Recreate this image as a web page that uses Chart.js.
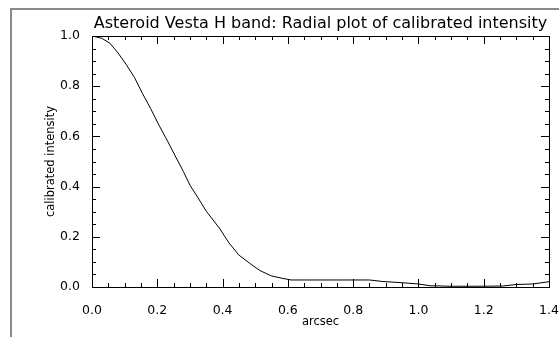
<!DOCTYPE html>
<html>
<head>
<meta charset="utf-8">
<script src="https://cdn.jsdelivr.net/npm/chart.js@4"></script>
<style>
  html, body { margin: 0; padding: 0; background: #fff; }
  #wrap { width: 559px; height: 337px; }
</style>
</head>
<body>
<div id="wrap"><canvas id="chart"></canvas></div>
<script>
// radial profile
const arcsec = [0, 0.03, 0.055, 0.08, 0.105, 0.13, 0.155, 0.18, 0.205, 0.23, 0.255, 0.28, 0.30, 0.325, 0.35, 0.39, 0.42, 0.45, 0.49, 0.515, 0.55, 0.585, 0.61, 0.65, 0.75, 0.85, 0.89, 0.95, 1.0, 1.035, 1.1, 1.2, 1.26, 1.3, 1.35, 1.4]
const intensity = [1.0, 0.991, 0.971, 0.932, 0.886, 0.835, 0.770, 0.710, 0.645, 0.585, 0.522, 0.460, 0.406, 0.355, 0.302, 0.235, 0.175, 0.127, 0.088, 0.065, 0.044, 0.034, 0.028, 0.028, 0.028, 0.028, 0.022, 0.017, 0.012, 0.005, 0.003, 0.003, 0.004, 0.010, 0.012, 0.021]

const xRange = [0, 1.4]
const yRange = [0, 1.0]
const majorStep = 0.2
const minorStep = 0.05

const titleText = 'Asteroid Vesta H band: Radial plot of calibrated intensity'
const xTitle = 'arcsec'
const yTitle = 'calibrated intensity'

const fontFamily = '"DejaVu Sans", sans-serif'

// gray page frame + closed box with inward ticks, like the IDL plot
const framePlugin = {
    id: 'frame',
    beforeDraw(chart) {
        let ctx = chart.ctx
        ctx.save()
        ctx.strokeStyle = '#8a8a8a'
        ctx.lineWidth = 2
        ctx.beginPath()
        ctx.moveTo(11, chart.height)
        ctx.lineTo(11, 9)
        ctx.lineTo(chart.width, 9)
        ctx.stroke()
        ctx.restore()
    },
    afterDraw(chart) {
        let ctx = chart.ctx
        let a = chart.chartArea
        let xs = chart.scales.x
        let ys = chart.scales.y
        ctx.save()
        ctx.strokeStyle = '#000'
        ctx.lineWidth = 1
        ctx.strokeRect(Math.round(a.left) + 0.5, Math.round(a.top) + 0.5,
            Math.round(a.right - a.left), Math.round(a.bottom - a.top))
        ctx.beginPath()
        let n = Math.round((xRange[1] - xRange[0]) / minorStep)
        for (let i = 0; i <= n; i++) {
            let v = xRange[0] + i * minorStep
            let len = (i % 4 === 0) ? 8 : 4
            let px = Math.round(xs.getPixelForValue(v)) + 0.5
            ctx.moveTo(px, a.bottom); ctx.lineTo(px, a.bottom - len)
            ctx.moveTo(px, a.top); ctx.lineTo(px, a.top + len)
        }
        n = Math.round((yRange[1] - yRange[0]) / minorStep)
        for (let i = 0; i <= n; i++) {
            let v = yRange[0] + i * minorStep
            let len = (i % 4 === 0) ? 8 : 4
            let py = Math.round(ys.getPixelForValue(v)) + 0.5
            ctx.moveTo(a.left, py); ctx.lineTo(a.left + len, py)
            ctx.moveTo(a.right, py); ctx.lineTo(a.right - len, py)
        }
        ctx.stroke()
        ctx.restore()
    }
}

new Chart(document.getElementById('chart'), {
    type: 'line',
    data: {
        datasets: [{
            data: arcsec.map((x, i) => ({x: x, y: intensity[i]})),
            borderColor: '#000',
            borderWidth: 1,
            pointRadius: 0,
            tension: 0,
            fill: false
        }]
    },
    options: {
        responsive: true,
        maintainAspectRatio: false,
        animation: false,
        layout: {padding: {left: 0, top: 0, right: 10, bottom: 0}},
        plugins: {
            legend: {display: false},
            tooltip: {enabled: false},
            title: {
                display: true,
                text: titleText,
                fullSize: false,
                color: '#000',
                font: {family: fontFamily, size: 16, weight: 'normal'},
                padding: {top: 14.4, bottom: 2.4}
            }
        },
        scales: {
            x: {
                type: 'linear',
                min: xRange[0],
                max: xRange[1],
                grid: {display: false},
                border: {display: false},
                ticks: {
                    stepSize: majorStep,
                    color: '#000',
                    padding: 8,
                    maxRotation: 0,
                    font: {family: fontFamily, size: 12.5},
                    callback: v => v.toFixed(1)
                },
                title: {
                    display: true,
                    text: xTitle,
                    color: '#000',
                    font: {family: fontFamily, size: 11.5},
                    padding: {top: 0, bottom: 8}
                },
                afterFit(s) {
                    s.height = 50
                    s.paddingLeft = 0
                    s.paddingRight = 0
                }
            },
            y: {
                min: yRange[0],
                max: yRange[1],
                grid: {display: false},
                border: {display: false},
                ticks: {
                    stepSize: majorStep,
                    color: '#000',
                    padding: 4,
                    font: {family: fontFamily, size: 12.5},
                    callback: v => v.toFixed(1)
                },
                title: {
                    display: true,
                    text: yTitle,
                    color: '#000',
                    font: {family: fontFamily, size: 11.5},
                    padding: {top: 44, bottom: 0}
                },
                afterFit(s) {
                    s.width = 92
                    s.paddingTop = 0
                    s.paddingBottom = 0
                }
            }
        }
    },
    plugins: [framePlugin]
})
</script>
</body>
</html>
